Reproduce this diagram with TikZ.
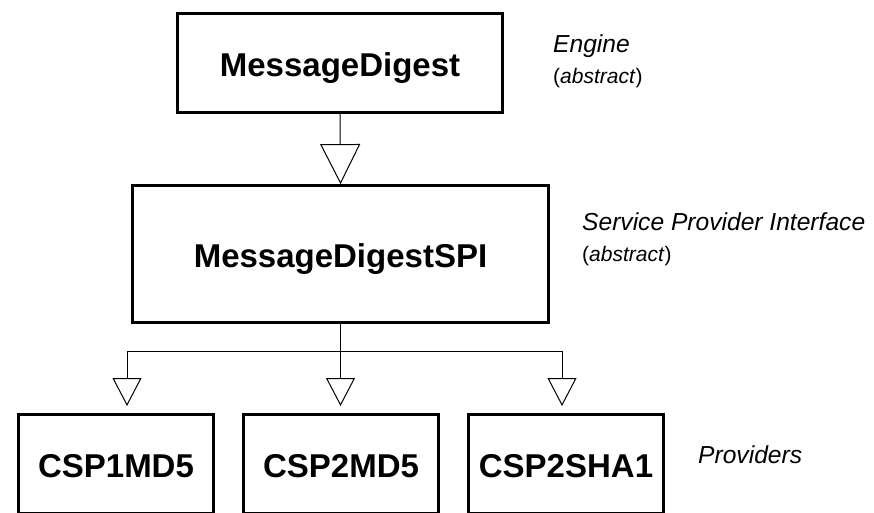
\documentclass[tikz,border=0pt]{standalone}
\usepackage{fontspec}
\setmainfont{Liberation Sans}
\usetikzlibrary{arrows.meta}
\begin{document}
\begin{tikzpicture}[x=1pt,y=-1pt,
  box/.style={draw,line width=2.8pt,inner sep=0pt,text height=26pt,text depth=0pt,
    font=\bfseries\fontsize{33}{33}\selectfont},
  lbl/.style={anchor=base west,inner sep=0pt,font=\itshape\fontsize{24.6}{26}\selectfont},
  sublbl/.style={anchor=base west,inner sep=0pt,font=\fontsize{21}{22}\selectfont},
  conn/.style={line width=1pt},
  bigtri/.style={-{Triangle[open,length=40pt,width=40pt]}},
  smalltri/.style={-{Triangle[open,length=28pt,width=29pt]}}]
\useasboundingbox (0,0) rectangle (874,512);
\clip (0,0) rectangle (874,512);

\node[box,minimum width=325pt,minimum height=99pt] (md) at (340,63) {MessageDigest};
\node[box,minimum width=416pt,minimum height=137pt] (spi) at (340.5,254) {MessageDigestSPI};
\node[box,minimum width=195pt,minimum height=99pt] (p1) at (116,464) {CSP1MD5};
\node[box,minimum width=195pt,minimum height=99pt] (p2) at (341,464) {CSP2MD5};
\node[box,minimum width=195pt,minimum height=99pt] (p3) at (566,464) {CSP2SHA1};

\draw[conn,bigtri] (md.south) -- (spi.north);

\coordinate (bl) at (127,351);
\coordinate (br) at (562,351);
\coordinate (t1) at (127,406);
\coordinate (t2) at (340.5,406);
\coordinate (t3) at (562,406);
\draw[conn] (spi.south) -- (spi.south |- bl);
\draw[conn] (bl) -- (br);
\draw[conn,smalltri] (bl) -- (t1);
\draw[conn,smalltri] (spi.south |- bl) -- (t2);
\draw[conn,smalltri] (br) -- (t3);

\node[lbl] (eng) at (553,52) {Engine};
\node[sublbl] (engab) at (553,83) {(\textit{abstract})};
\node[lbl] (spl) at (582,230) {Service Provider Interface};
\node[sublbl] (spiab) at (582,261) {(\textit{abstract})};
\node[lbl] (prov) at (698,463) {Providers};
\end{tikzpicture}
\end{document}
